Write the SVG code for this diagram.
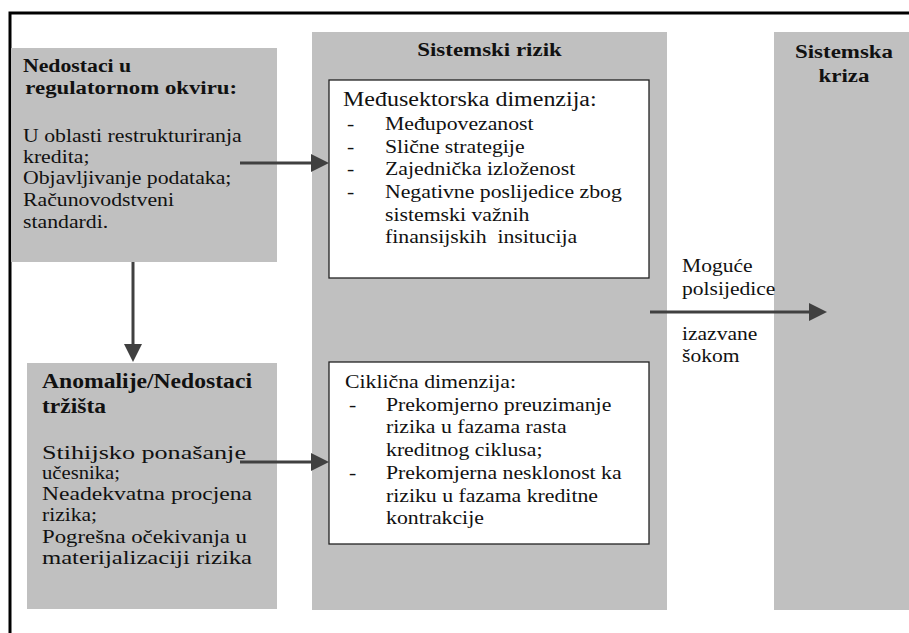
<svg xmlns="http://www.w3.org/2000/svg" width="909" height="633" viewBox="0 0 909 633">
<style>
.t{font-family:"Liberation Serif","Times New Roman",serif;fill:#111;font-size:18.6px}
.b{font-weight:bold}
.h{font-size:19.6px}
.gray{fill:#c0c0c0}
.wbox{fill:#fff;stroke:#222;stroke-width:1.3}
.frame{stroke:#000;stroke-width:3;fill:none}
.conn{stroke:#404040;stroke-width:3;fill:none;marker-end:url(#ah)}
</style>
<defs>
<marker id="ah" markerUnits="userSpaceOnUse" markerWidth="18" markerHeight="18" refX="14" refY="9" orient="auto"><path d="M0,0 L18,9 L0,18 z" fill="#404040"/></marker>
</defs>
<rect width="909" height="633" fill="#fff"/>
<path class="frame" d="M10,633 V13 H909"/>

<g id="sistemski-rizik">
<rect class="gray" x="312" y="32" width="355" height="578"/>
<g transform="matrix(1.17,0,0,1,489.5,0)"><text class="t b h" x="0" y="56" text-anchor="middle">Sistemski rizik</text></g>
</g>

<g id="sistemska-kriza">
<rect class="gray" x="774" y="32" width="135" height="578"/>
<g transform="matrix(1.17,0,0,1,844,0)">
<text class="t b h" x="0" y="58" text-anchor="middle">Sistemska</text>
<text class="t b h" x="0" y="82" text-anchor="middle">kriza</text>
</g>
</g>

<g id="nedostaci-regulatorni">
<rect class="gray" x="11" y="48" width="266" height="214"/>
<g transform="matrix(1.17,0,0,1,23,0)">
<text class="t b" x="0" y="72">Nedostaci u</text>
<text class="t b" x="2" y="94" textLength="181" lengthAdjust="spacingAndGlyphs">regulatornom okviru:</text>
<text class="t" x="0" y="142">U oblasti restrukturiranja</text>
<text class="t" x="0" y="163">kredita;</text>
<text class="t" x="0" y="184">Objavljivanje podataka;</text>
<text class="t" x="0" y="206">Računovodstveni</text>
<text class="t" x="0" y="228">standardi.</text>
</g>
</g>

<g id="anomalije-trzista">
<rect class="gray" x="27" y="363" width="250" height="246"/>
<text class="t b" style="font-size:20px" x="42" y="388" textLength="210" lengthAdjust="spacingAndGlyphs">Anomalije/Nedostaci</text>
<text class="t b" style="font-size:20px" x="42" y="413" textLength="64" lengthAdjust="spacingAndGlyphs">tržišta</text>
<text class="t" x="42" y="459" textLength="204" lengthAdjust="spacingAndGlyphs">Stihijsko ponašanje</text>
<text class="t" x="42" y="479" textLength="78" lengthAdjust="spacingAndGlyphs">učesnika;</text>
<text class="t" x="42" y="500" textLength="210" lengthAdjust="spacingAndGlyphs">Neadekvatna procjena</text>
<text class="t" x="42" y="521" textLength="55" lengthAdjust="spacingAndGlyphs">rizika;</text>
<text class="t" x="42" y="543" textLength="205" lengthAdjust="spacingAndGlyphs">Pogrešna očekivanja u</text>
<text class="t" x="42" y="564" textLength="210" lengthAdjust="spacingAndGlyphs">materijalizaciji rizika</text>
</g>

<g id="medjusektorska-dimenzija">
<rect class="wbox" x="329" y="80" width="320" height="198"/>
<g transform="matrix(1.17,0,0,1,343,0)"><text class="t" style="font-size:20.5px" x="0" y="106">Međusektorska dimenzija:</text></g>
<g transform="matrix(1.17,0,0,1,347,0)">
<text class="t" x="0" y="130">-</text>
<text class="t" x="0" y="153">-</text>
<text class="t" x="0" y="175">-</text>
<text class="t" x="0" y="198">-</text>
</g>
<g transform="matrix(1.17,0,0,1,385,0)">
<text class="t" x="0" y="130">Međupovezanost</text>
<text class="t" x="0" y="153">Slične strategije</text>
<text class="t" x="0" y="175">Zajednička izloženost</text>
<text class="t" x="0" y="198">Negativne poslijedice zbog</text>
<text class="t" x="0" y="221">sistemski važnih</text>
<text class="t" x="0" y="243">finansijskih&#160; insitucija</text>
</g>
</g>

<g id="ciklicna-dimenzija">
<rect class="wbox" x="329" y="362" width="320" height="182"/>
<g transform="matrix(1.17,0,0,1,345,0)"><text class="t" x="0" y="388">Ciklična dimenzija:</text></g>
<g transform="matrix(1.17,0,0,1,349,0)">
<text class="t" x="0" y="411">-</text>
<text class="t" x="0" y="479">-</text>
</g>
<g transform="matrix(1.17,0,0,1,386,0)">
<text class="t" x="0" y="411">Prekomjerno preuzimanje</text>
<text class="t" x="0" y="433">rizika u fazama rasta</text>
<text class="t" x="0" y="456">kreditnog ciklusa;</text>
<text class="t" x="0" y="479">Prekomjerna nesklonost ka</text>
<text class="t" x="0" y="502">riziku u fazama kreditne</text>
<text class="t" x="0" y="524">kontrakcije</text>
</g>
</g>

<g id="connectors">
<line class="conn" x1="240" y1="163" x2="325" y2="163"/>
<line class="conn" x1="133" y1="262" x2="133" y2="358"/>
<line class="conn" x1="240" y1="462" x2="325" y2="462"/>
<line class="conn" x1="650" y1="312" x2="823" y2="312"/>
<g transform="matrix(1.16,0,0,1,682,0)">
<text class="t" x="0" y="272">Moguće</text>
<text class="t" x="0" y="295">polsijedice</text>
<text class="t" x="0" y="340">izazvane</text>
<text class="t" x="0" y="362">šokom</text>
</g>
</g>
</svg>
